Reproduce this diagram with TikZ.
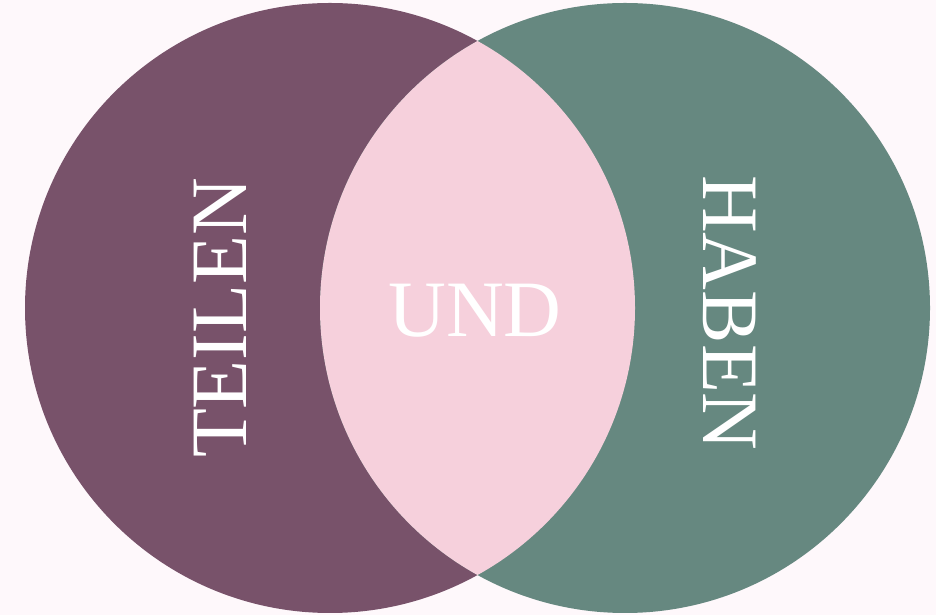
\documentclass[tikz,border=0pt]{standalone}
\usepackage{fontspec}
\setmainfont{Liberation Serif}
\definecolor{bgpink}{HTML}{FEF8FB}
\definecolor{plum}{HTML}{78526A}
\definecolor{sage}{HTML}{668880}
\definecolor{blush}{HTML}{F6D0DC}
\begin{document}
\begin{tikzpicture}[x=1pt,y=1pt,
word/.style={text=white,font=\fontsize{80}{80}\selectfont,inner sep=0pt}]
\fill[bgpink] (0,0) rectangle (936,615);
\useasboundingbox (0,0) rectangle (936,615);
\fill[plum] (330,307) circle[radius=305];
\fill[sage] (625,307) circle[radius=305];
\begin{scope}
\clip (330,307) circle[radius=305];
\fill[blush] (625,307) circle[radius=305];
\end{scope}
\node[word,rotate=90] (teilen) at (220,297) {TEILEN};
\node[word,rotate=-90] (haben) at (730,302) {HABEN};
\node[word] (und) at (475,304) {UND};
\end{tikzpicture}
\end{document}
